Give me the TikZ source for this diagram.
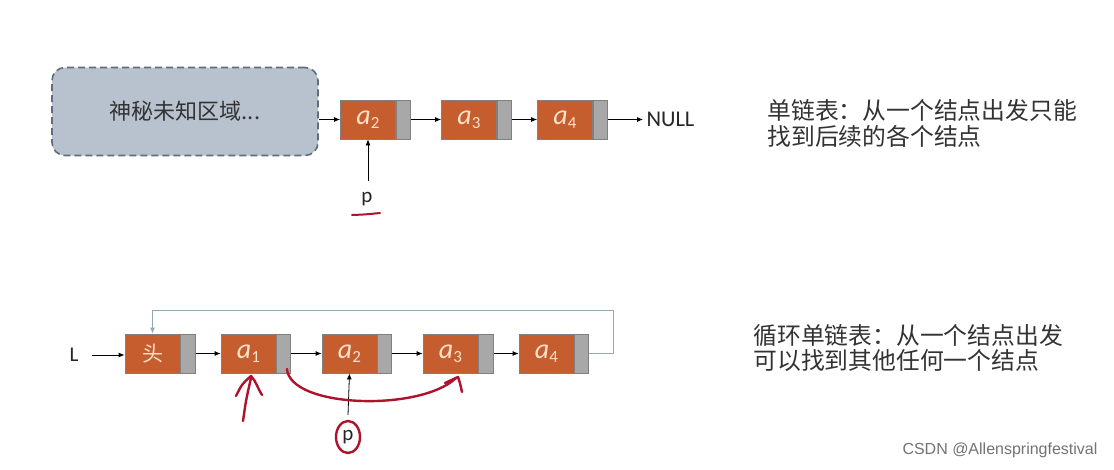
\documentclass[tikz,border=0pt]{standalone}
\usepackage{fontspec}
\setmainfont{Carlito}
\newfontfamily\cjk{Noto Sans CJK SC}
\newfontfamily\wmfont{Liberation Sans}
\usetikzlibrary{arrows.meta}
\definecolor{nodeorange}{HTML}{C65D2E}
\definecolor{ptrgray}{HTML}{A8A8A8}
\definecolor{edgegray}{HTML}{808080}
\definecolor{peach}{HTML}{FBE1C8}
\definecolor{boxfill}{HTML}{B7C2CE}
\definecolor{boxedge}{HTML}{5E6E7C}
\definecolor{loopblue}{HTML}{8FA8BA}
\definecolor{inkred}{HTML}{B0122C}
\definecolor{txtgray}{HTML}{333333}
\newcommand{\elem}[1]{{\itshape a}\raisebox{-0.3ex}{\fontsize{17}{17}\selectfont #1}}
\begin{document}
\begin{tikzpicture}[x=1pt,y=-1pt,
  datafield/.style={draw=edgegray, line width=0.8pt, fill=nodeorange, minimum width=55pt, minimum height=39pt, inner sep=0pt, text=peach, font=\fontsize{28}{28}\selectfont},
  ptrfield/.style={draw=edgegray, line width=0.8pt, fill=ptrgray, minimum width=14pt, minimum height=39pt, inner sep=0pt, anchor=west},
  link/.style={-{Latex[length=6pt,width=5pt]}, line width=0.8pt, black},
  ink/.style={draw=inkred, line width=2.4pt, line cap=round, line join=round},
  note/.style={anchor=west, align=left, text=txtgray, font=\cjk\fontsize{23.8}{25.5}\selectfont},
  plain/.style={font=\fontsize{21}{21}\selectfont, text=black!85}
]
\useasboundingbox (0,0) rectangle (1114,469);
\fill[white] (0,0) rectangle (1114,469);

% ---------- top: singly linked list ----------
\node[draw=boxedge, fill=boxfill, line width=1.6pt, dash pattern=on 7pt off 4pt, rounded corners=13pt,
      minimum width=266pt, minimum height=88pt, inner sep=0pt, font=\cjk\fontsize{22}{22}\selectfont, text=txtgray]
  (unknown) at (185,111.5) {神秘未知区域...};

\node[datafield] (ta2) at (368,119.5) {\elem{2}};
\node[ptrfield] (ta2p) at (ta2.east) {};
\node[datafield] (ta3) at (469,119.5) {\elem{3}};
\node[ptrfield] (ta3p) at (ta3.east) {};
\node[datafield] (ta4) at (565,119.5) {\elem{4}};
\node[ptrfield] (ta4p) at (ta4.east) {};
\node[plain, anchor=west, font=\fontsize{22.5}{22.5}\selectfont] (null) at (643,119.5) {NULL};

\draw[link] (unknown.east |- ta2.west) -- (ta2.west);
\draw[link] (ta2p.east) -- (ta3.west);
\draw[link] (ta3p.east) -- (ta4.west);
\draw[link] (ta4p.east) -- (null.west);

\node[plain] (tp) at (367,199) {p};
\coordinate (tpstart) at (368,181);
\draw[link] (tpstart) -- (ta2.south);
\draw[ink, line width=2pt] (352,215) .. controls (365,214.5) .. (380,213);

\node[note] (note1) at (764,123.5) {单链表：从一个结点出发只能\\找到后续的各个结点};

% ---------- bottom: circular linked list ----------
\node[datafield, font=\cjk\fontsize{21}{21}\selectfont] (bh) at (152.5,353.5) {头};
\node[ptrfield, minimum width=15pt] (bhp) at (bh.east) {};
\node[datafield] (b1) at (248.5,353.5) {\elem{1}};
\node[ptrfield] (b1p) at (b1.east) {};
\node[datafield] (b2) at (349.5,353.5) {\elem{2}};
\node[ptrfield] (b2p) at (b2.east) {};
\node[datafield] (b3) at (450.5,353.5) {\elem{3}};
\node[ptrfield, minimum width=15pt] (b3p) at (b3.east) {};
\node[datafield] (b4) at (546.5,353.5) {\elem{4}};
\node[ptrfield] (b4p) at (b4.east) {};

\node[plain] (L) at (74,355) {L};
\coordinate (Lstart) at (92,355);
\draw[link] (Lstart) -- (bh.west |- Lstart);
\draw[link] (bhp.east) -- (b1.west);
\draw[link] (b1p.east) -- (b2.west);
\draw[link] (b2p.east) -- (b3.west);
\draw[link] (b3p.east) -- (b4.west);

\coordinate (loopR) at (613,310);
\draw[loopblue, line width=1pt, -{Latex[length=6pt,width=5pt]}] (b4p.east) -| (loopR) -| (bh.north);

\node[plain] (bp) at (348,437) {p};
\coordinate (bpstart) at (348,415);
\draw[link] (bpstart) -- (b2.south);

\node[note] (note2) at (750,348) {循环单链表：从一个结点出发\\可以找到其他任何一个结点};

% ---------- red hand-drawn marks ----------
\draw[ink] (243,421) .. controls (246,400) .. (251,378);
\draw[ink] (236,396) .. controls (242,384) .. (251,376) .. controls (256,381) and (258,389) .. (262,395);
\draw[ink] (287,369) .. controls (290,408) and (420,412) .. (456,378);
\draw[ink] (445,383) .. controls (451,380) .. (458,377) .. controls (460,383) .. (462,392);
\draw[ink] (bp) ellipse (12pt and 16pt);

% ---------- watermark ----------
\node[anchor=east, text=black!55, font=\wmfont\fontsize{16}{16}\selectfont] (wm) at (1101,450) {CSDN @Allenspringfestival};
\end{tikzpicture}
\end{document}
